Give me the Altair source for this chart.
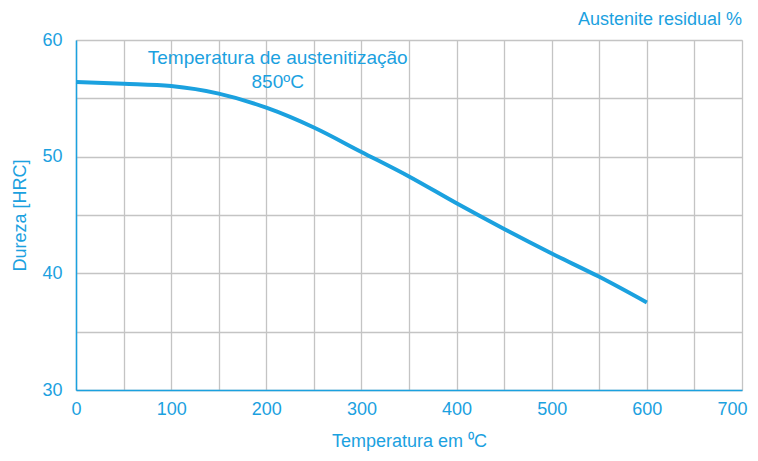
import altair as alt
import pandas as pd

temp = [0, 50, 100, 150, 200, 250, 300, 350, 400, 450, 500, 550, 600]
hardness = [56.4, 56.25, 56.05, 55.4, 54.2, 52.5, 50.4, 48.3, 46.0, 43.8, 41.7, 39.7, 37.5]

BLUE = "#1ba1df"
FONT = "Liberation Sans"
FS = 18

df = pd.DataFrame({"t": temp, "h": hardness})

x_ticks = list(range(0, 701, 50))
y_ticks = list(range(30, 61, 5))

line = alt.Chart(df).mark_line(color=BLUE, strokeWidth=4, interpolate="monotone").encode(
    x=alt.X("t:Q", scale=alt.Scale(domain=[0, 700], nice=False),
            axis=alt.Axis(values=x_ticks, labelExpr="datum.value % 100 == 0 ? datum.label : ''",
                          title="Temperatura em ⁰C", titlePadding=14, labelPadding=10,
                          labelFlush=True, labelFlushOffset=5,
                          ticks=False, grid=True, gridColor="#c4c4c4", gridWidth=1.3,
                          domainColor=BLUE, domainWidth=1.5,
                          labelColor=BLUE, titleColor=BLUE, labelFont=FONT, titleFont=FONT,
                          labelFontSize=FS, titleFontSize=FS, titleFontWeight="normal")),
    y=alt.Y("h:Q", scale=alt.Scale(domain=[30, 60], nice=False),
            axis=alt.Axis(values=y_ticks, labelExpr="datum.value % 10 == 0 ? datum.label : ''",
                          title="Dureza [HRC]", titlePadding=12, labelPadding=14,
                          labelFlush=False,
                          ticks=False, grid=True, gridColor="#c4c4c4", gridWidth=1.3,
                          domainColor=BLUE, domainWidth=1.5,
                          labelColor=BLUE, titleColor=BLUE, labelFont=FONT, titleFont=FONT,
                          labelFontSize=FS, titleFontSize=FS, titleFontWeight="normal")),
)

ann_lines = ["Temperatura de austenitização", "850ºC"]
ann = alt.Chart(pd.DataFrame({"txt": [ann_lines]})).mark_text(
    color=BLUE, font=FONT, fontSize=19, align="center", baseline="middle", lineHeight=24
).encode(
    x=alt.datum(212), y=alt.datum(58.45), text="txt"
)

corner = alt.Chart(pd.DataFrame({"txt": ["Austenite residual %"]})).mark_text(
    color=BLUE, font=FONT, fontSize=FS, align="right", baseline="middle"
).encode(
    x=alt.value(666), y=alt.value(-20), text="txt"
)

chart = alt.layer(line, ann, corner).properties(
    width=666, height=350,
    autosize=alt.AutoSizeParams(type="none"),
    padding={"left": 68, "top": 32, "right": 8, "bottom": 63},
).configure_view(stroke=None).configure(background="white")

chart.save("out.html", embed_options={"renderer": "svg", "actions": False})
